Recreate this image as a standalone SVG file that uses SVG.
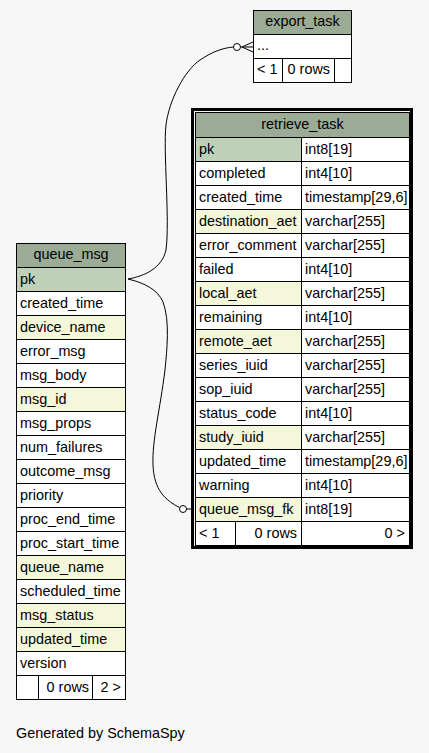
<svg xmlns="http://www.w3.org/2000/svg" width="429" height="753" viewBox="0 0 429 753">
<style>
text{font-family:"Liberation Sans",Arial,sans-serif;font-size:14.4px;fill:#000}
.c{text-anchor:middle}
.e{text-anchor:end}
rect{stroke:#000;stroke-width:1}
.thick{fill:none;stroke:#000;stroke-width:3}
.h{fill:#9bab96}
.k{fill:#bed1b8}
.y{fill:#f4f7da}
.w{fill:#fff}
.edge{fill:none;stroke:#000;stroke-width:1}
.dot{fill:#fff;stroke:#000;stroke-width:1}
</style>
<rect x="0" y="0" width="429" height="753" fill="#f7f7f7" stroke="none" style="stroke:none"/>

<g id="connectors">
<path class="edge" d="M128,279 C145,283 158,290 163,302 C170,320 167,350 165,370 C160,410 152,440 153,465 C154,490 165,500 179.5,507.5"/>
<circle class="dot" cx="183" cy="509" r="3.5"/>
<path class="edge" d="M186.5,509 L191,509"/>
<path class="edge" d="M128,279 C145,276 162,268 166,250 C170,220 163,150 166,125 C169,100 185,70 200,60 C212,52 222,48 233.5,47"/>
<circle class="dot" cx="237" cy="47" r="3.5"/>
<path class="edge" d="M240.5,47 L253,47 M242,47 L253,42 M242,47 L253,52"/>
</g>

<g id="export_task">
<rect class="h" x="253.5" y="10.5" width="98" height="24"/>
<text class="c" x="302.5" y="26">export_task</text>
<rect class="w" x="253.5" y="34.5" width="98" height="24"/>
<text x="257" y="50">...</text>
<rect class="w" x="253.5" y="58.5" width="29" height="24"/>
<rect class="w" x="282.5" y="58.5" width="52" height="24"/>
<rect class="w" x="334.5" y="58.5" width="17" height="24"/>
<text x="257" y="74">&lt; 1</text>
<text class="e" x="330" y="74">0 rows</text>
</g>

<g id="retrieve_task">
<rect class="thick" x="192.5" y="109.5" width="219" height="438"/>
<rect class="h" x="195.5" y="112.5" width="214" height="25"/>
<text class="c" x="302.5" y="129">retrieve_task</text>
<rect class="k" x="195.5" y="137.5" width="106" height="24"/><rect class="w" x="301.5" y="137.5" width="108" height="24"/>
<text x="199" y="153.5">pk</text><text x="305" y="153.5">int8[19]</text>
<rect class="w" x="195.5" y="161.5" width="106" height="24"/><rect class="w" x="301.5" y="161.5" width="108" height="24"/>
<text x="199" y="177.5">completed</text><text x="305" y="177.5">int4[10]</text>
<rect class="w" x="195.5" y="185.5" width="106" height="24"/><rect class="w" x="301.5" y="185.5" width="108" height="24"/>
<text x="199" y="201.5">created_time</text><text x="305" y="201.5">timestamp[29,6]</text>
<rect class="y" x="195.5" y="209.5" width="106" height="24"/><rect class="w" x="301.5" y="209.5" width="108" height="24"/>
<text x="199" y="225.5">destination_aet</text><text x="305" y="225.5">varchar[255]</text>
<rect class="w" x="195.5" y="233.5" width="106" height="24"/><rect class="w" x="301.5" y="233.5" width="108" height="24"/>
<text x="199" y="249.5">error_comment</text><text x="305" y="249.5">varchar[255]</text>
<rect class="w" x="195.5" y="257.5" width="106" height="24"/><rect class="w" x="301.5" y="257.5" width="108" height="24"/>
<text x="199" y="273.5">failed</text><text x="305" y="273.5">int4[10]</text>
<rect class="y" x="195.5" y="281.5" width="106" height="24"/><rect class="w" x="301.5" y="281.5" width="108" height="24"/>
<text x="199" y="297.5">local_aet</text><text x="305" y="297.5">varchar[255]</text>
<rect class="w" x="195.5" y="305.5" width="106" height="24"/><rect class="w" x="301.5" y="305.5" width="108" height="24"/>
<text x="199" y="321.5">remaining</text><text x="305" y="321.5">int4[10]</text>
<rect class="y" x="195.5" y="329.5" width="106" height="24"/><rect class="w" x="301.5" y="329.5" width="108" height="24"/>
<text x="199" y="345.5">remote_aet</text><text x="305" y="345.5">varchar[255]</text>
<rect class="w" x="195.5" y="353.5" width="106" height="24"/><rect class="w" x="301.5" y="353.5" width="108" height="24"/>
<text x="199" y="369.5">series_iuid</text><text x="305" y="369.5">varchar[255]</text>
<rect class="w" x="195.5" y="377.5" width="106" height="24"/><rect class="w" x="301.5" y="377.5" width="108" height="24"/>
<text x="199" y="393.5">sop_iuid</text><text x="305" y="393.5">varchar[255]</text>
<rect class="w" x="195.5" y="401.5" width="106" height="24"/><rect class="w" x="301.5" y="401.5" width="108" height="24"/>
<text x="199" y="417.5">status_code</text><text x="305" y="417.5">int4[10]</text>
<rect class="y" x="195.5" y="425.5" width="106" height="24"/><rect class="w" x="301.5" y="425.5" width="108" height="24"/>
<text x="199" y="441.5">study_iuid</text><text x="305" y="441.5">varchar[255]</text>
<rect class="w" x="195.5" y="449.5" width="106" height="24"/><rect class="w" x="301.5" y="449.5" width="108" height="24"/>
<text x="199" y="465.5">updated_time</text><text x="305" y="465.5">timestamp[29,6]</text>
<rect class="w" x="195.5" y="473.5" width="106" height="24"/><rect class="w" x="301.5" y="473.5" width="108" height="24"/>
<text x="199" y="489.5">warning</text><text x="305" y="489.5">int4[10]</text>
<rect class="y" x="195.5" y="497.5" width="106" height="24"/><rect class="w" x="301.5" y="497.5" width="108" height="24"/>
<text x="199" y="513.5">queue_msg_fk</text><text x="305" y="513.5">int8[19]</text>
<rect class="w" x="195.5" y="521.5" width="40" height="24"/><rect class="w" x="235.5" y="521.5" width="66" height="24"/><rect class="w" x="301.5" y="521.5" width="108" height="24"/>
<text x="199" y="537.5">&lt; 1</text><text class="e" x="297" y="537.5">0 rows</text><text class="e" x="405" y="537.5">0 &gt;</text>
</g>

<g id="queue_msg">
<rect class="h" x="16.5" y="243.5" width="109" height="24"/>
<text class="c" x="71" y="259">queue_msg</text>
<rect class="k" x="16.5" y="267.5" width="109" height="24"/><text x="20" y="283.5">pk</text>
<rect class="w" x="16.5" y="291.5" width="109" height="24"/><text x="20" y="307.5">created_time</text>
<rect class="y" x="16.5" y="315.5" width="109" height="24"/><text x="20" y="331.5">device_name</text>
<rect class="w" x="16.5" y="339.5" width="109" height="24"/><text x="20" y="355.5">error_msg</text>
<rect class="w" x="16.5" y="363.5" width="109" height="24"/><text x="20" y="379.5">msg_body</text>
<rect class="y" x="16.5" y="387.5" width="109" height="24"/><text x="20" y="403.5">msg_id</text>
<rect class="w" x="16.5" y="411.5" width="109" height="24"/><text x="20" y="427.5">msg_props</text>
<rect class="w" x="16.5" y="435.5" width="109" height="24"/><text x="20" y="451.5">num_failures</text>
<rect class="w" x="16.5" y="459.5" width="109" height="24"/><text x="20" y="475.5">outcome_msg</text>
<rect class="w" x="16.5" y="483.5" width="109" height="24"/><text x="20" y="499.5">priority</text>
<rect class="w" x="16.5" y="507.5" width="109" height="24"/><text x="20" y="523.5">proc_end_time</text>
<rect class="w" x="16.5" y="531.5" width="109" height="24"/><text x="20" y="547.5">proc_start_time</text>
<rect class="y" x="16.5" y="555.5" width="109" height="24"/><text x="20" y="571.5">queue_name</text>
<rect class="w" x="16.5" y="579.5" width="109" height="24"/><text x="20" y="595.5">scheduled_time</text>
<rect class="y" x="16.5" y="603.5" width="109" height="24"/><text x="20" y="619.5">msg_status</text>
<rect class="y" x="16.5" y="627.5" width="109" height="24"/><text x="20" y="643.5">updated_time</text>
<rect class="w" x="16.5" y="651.5" width="109" height="24"/><text x="20" y="667.5">version</text>
<rect class="w" x="16.5" y="675.5" width="22" height="24"/><rect class="w" x="38.5" y="675.5" width="54" height="24"/><rect class="w" x="92.5" y="675.5" width="33" height="24"/>
<text class="e" x="89" y="691.5">0 rows</text><text class="e" x="121" y="691.5">2 &gt;</text>
</g>

<text x="16" y="738">Generated by SchemaSpy</text>
</svg>
